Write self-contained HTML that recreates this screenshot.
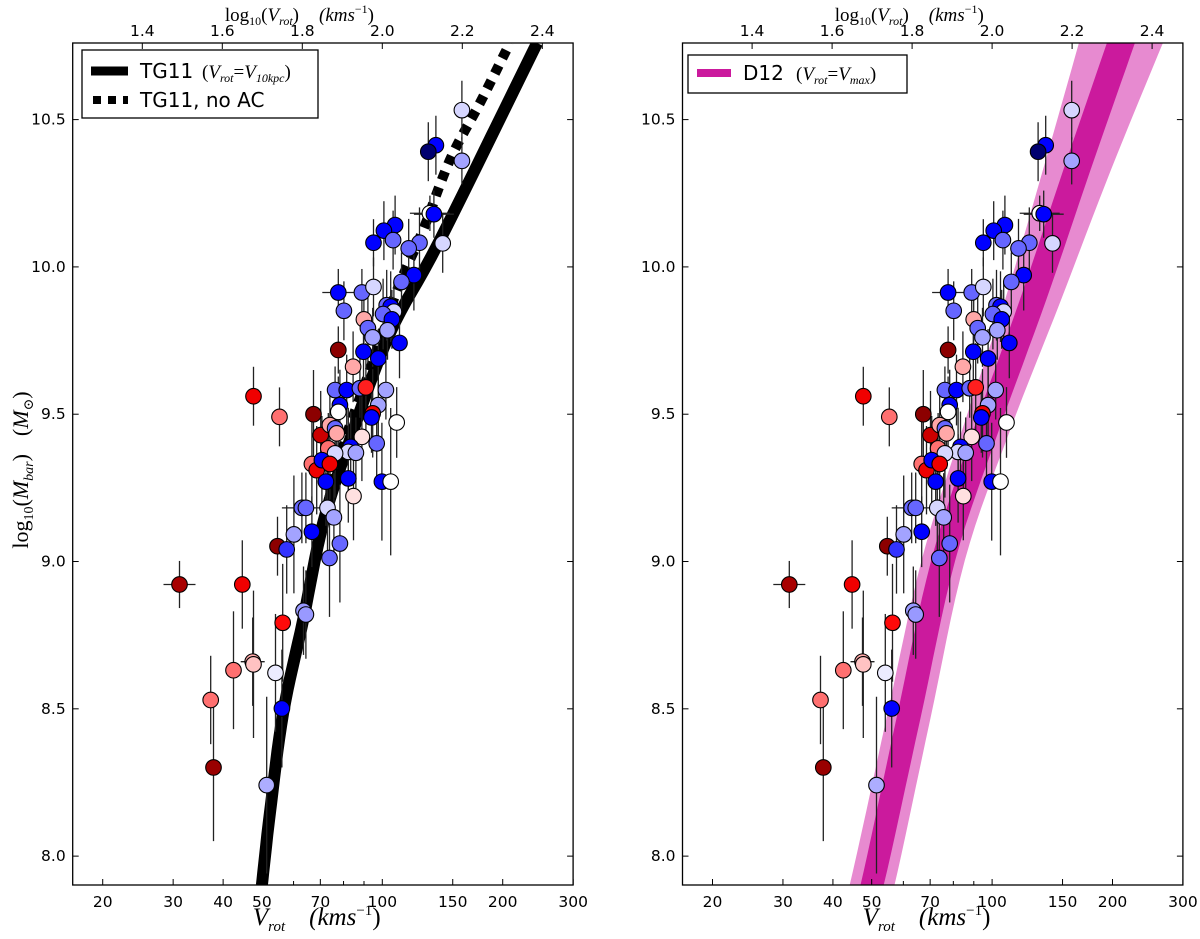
<!DOCTYPE html>
<html><head><meta charset="utf-8"><style>
html,body{margin:0;padding:0;background:#fff;}
svg{display:block;}
</style></head><body>
<svg id="fig" width="1200" height="939" xmlns="http://www.w3.org/2000/svg"></svg>
<script>
// ---- data ----
const logVrot = [2.199,2.134,2.115,2.199,2.119,2.129,2.151,2.032,2.004,2.027,1.978,2.093,2.066,2.079,2.048,1.890,1.949,1.978,1.904,1.954,1.964,1.976,2.011,2.021,2.029,2.002,2.024,2.013,2.043,1.890,1.953,1.990,1.927,1.678,1.743,1.828,1.882,1.911,1.944,1.959,2.009,1.894,1.890,1.990,1.976,1.973,2.036,1.846,1.869,1.882,1.886,1.949,1.986,1.865,1.921,1.915,1.934,1.882,1.824,1.836,1.849,1.869,1.859,1.915,1.999,2.021,1.928,1.799,1.809,1.863,1.879,1.779,1.824,1.738,1.761,1.894,1.868,1.493,1.650,1.803,1.809,1.751,1.628,1.676,1.678,1.733,1.571,1.749,1.578,1.711];
const logMbar = [10.532,10.413,10.391,10.360,10.182,10.179,10.080,10.142,10.123,10.091,10.082,10.082,10.063,9.972,9.949,9.913,9.913,9.932,9.851,9.822,9.792,9.761,9.870,9.865,9.848,9.840,9.822,9.785,9.742,9.718,9.712,9.689,9.661,9.561,9.491,9.500,9.582,9.582,9.588,9.591,9.582,9.531,9.508,9.531,9.503,9.489,9.472,9.429,9.463,9.452,9.435,9.423,9.401,9.384,9.389,9.372,9.369,9.367,9.331,9.310,9.344,9.331,9.271,9.282,9.271,9.271,9.222,9.182,9.182,9.182,9.150,9.092,9.101,9.052,9.041,9.061,9.012,8.922,8.922,8.833,8.820,8.792,8.631,8.660,8.651,8.622,8.530,8.501,8.301,8.241];
const colorVal = [0.46,0.25,0.05,0.41,0.5,0.25,0.46,0.25,0.25,0.35,0.25,0.35,0.35,0.25,0.35,0.25,0.35,0.46,0.35,0.585,0.35,0.41,0.35,0.25,0.46,0.35,0.25,0.41,0.25,0.975,0.25,0.25,0.585,0.78,0.64,0.975,0.35,0.25,0.35,0.72,0.41,0.25,0.5,0.41,0.78,0.25,0.5,0.85,0.585,0.35,0.585,0.53,0.35,0.64,0.25,0.46,0.41,0.46,0.64,0.78,0.25,0.78,0.25,0.25,0.25,0.5,0.53,0.35,0.35,0.46,0.41,0.41,0.25,0.975,0.30,0.35,0.35,0.92,0.78,0.40,0.40,0.74,0.64,0.585,0.56,0.48,0.64,0.25,0.95,0.42];
const yErr = [.1,.1,.1,.08,.06,.08,.1,.1,.1,.1,.08,.12,.1,.12,.1,.08,.08,.1,.1,.08,.12,.1,.12,.12,.1,.12,.1,.1,.12,.08,.1,.1,.12,.1,.1,.15,.08,.12,.1,.15,.1,.12,.12,.15,.15,.12,.12,.15,.12,.15,.12,.15,.12,.12,.12,.15,.12,.15,.15,.15,.15,.12,.15,.15,.2,.25,.15,.12,.12,.15,.15,.2,.12,.1,.15,.2,.2,.08,.15,.15,.15,.2,.2,.15,.25,.2,.15,.2,.25,.3];
const xErr = [0,0,0,0,.05,.05,.01,0,0,0,0,0,0,0,0,.04,0,0,0,0,0,0,0,0,0,0,0,0,0,0,0,0,0,.01,0,0,0,0,0,0,0,0,0,0,0,0,0,0,0,0,0,0,0,0,0,0,0,0,.01,0,0,0,0,0,0,0,0,.05,0,0,0,0,0,0,0,0,0,.04,0,0,0,.02,0,.03,0,0,.015,.01,.01,0];
// TG11 curves
const tgSolidLogV = [1.699,1.719,1.752,1.802,1.852,1.919,2.019,2.144,2.387];
const tgSolidLogM = [7.902,8.146,8.485,8.801,9.130,9.412,9.775,10.091,10.760];
const tgNoACLogV = [1.699,1.752,1.802,1.852,1.907,1.969,2.037,2.102,2.169,2.244,2.319];
const tgNoACLogM = [7.902,8.485,8.801,9.130,9.412,9.650,9.921,10.125,10.363,10.556,10.760];
// D12 band
const d12LogM = [7.80,7.902,8.462,9.005,9.446,9.887,10.329,10.760,10.85];
const d12LogV = [1.672,1.700,1.790,1.878,1.985,2.102,2.212,2.322,2.345];
const d12Inner = [0.029,0.029,0.030,0.030,0.032,0.033,0.034,0.035,0.035];
const d12Outer = [0.056,0.056,0.055,0.054,0.060,0.070,0.085,0.105,0.11];
// ticks
const bottomTicks = [20,30,40,50,70,100,150,200,300];
const bottomMinor = [60,80,90];
const topTicks = [1.4,1.6,1.8,2.0,2.2,2.4];
const yTicks = [8.0,8.5,9.0,9.5,10.0,10.5];

const XMIN=1.226, XMAX=2.477, YMIN=7.902, YMAX=10.760;
const PT=43, PB=885;
const NS='http://www.w3.org/2000/svg';
const svg=document.getElementById('fig');
function el(tag,attrs,parent){const e=document.createElementNS(NS,tag);for(const k in attrs)e.setAttribute(k,attrs[k]);(parent||svg).appendChild(e);return e;}
function seismic(c){let r,g,b;if(c<0.25){r=0;g=0;b=0.3+0.7*c/0.25;}else if(c<0.5){const t=(c-0.25)/0.25;r=t;g=t;b=1;}else if(c<0.75){const t=(c-0.5)/0.25;r=1;g=1-t;b=1-t;}else{const t=(c-0.75)/0.25;r=1-0.5*t;g=0;b=0;}return `rgb(${Math.round(r*255)},${Math.round(g*255)},${Math.round(b*255)})`;}
function crSample(arrs,steps){
  const n=arrs[0].length, out=arrs.map(()=>[]);
  for(let i=0;i<n-1;i++){
    for(let s=0;s<steps;s++){
      const t=s/steps;
      arrs.forEach((a,k)=>{
        const p0=a[Math.max(0,i-1)],p1=a[i],p2=a[i+1],p3=a[Math.min(n-1,i+2)];
        const t2=t*t,t3=t2*t;
        out[k].push(0.5*((2*p1)+(-p0+p2)*t+(2*p0-5*p1+4*p2-p3)*t2+(-p0+3*p1-3*p2+p3)*t3));
      });
    }
  }
  arrs.forEach((a,k)=>out[k].push(a[n-1]));
  return out;
}

function panel(L,R,name,isLeft){
  const xs=v=>L+(v-XMIN)/(XMAX-XMIN)*(R-L);
  const ys=v=>PB-(v-YMIN)/(YMAX-YMIN)*(PB-PT);
  const g=el('g',{});
  
  
  const cid='clip-'+name;
  const defs=el('defs',{},g);
  const cp=el('clipPath',{id:cid},defs);
  el('rect',{x:L,y:PT,width:R-L,height:PB-PT},cp);
  const plot=el('g',{'clip-path':`url(#${cid})`},g);
  const pathOf=(X,Y)=>{const [sx,sy]=crSample([X,Y],8);let d='';sx.forEach((v,i)=>{d+=(i?'L':'M')+xs(v).toFixed(1)+' '+ys(sy[i]).toFixed(1);});return d;};
  if(isLeft){
    const s=el('path',{d:pathOf(tgSolidLogV,tgSolidLogM),fill:'none',stroke:'#000','stroke-width':12},plot);
    
    
    const s2=el('path',{d:pathOf(tgNoACLogV,tgNoACLogM),fill:'none',stroke:'#000','stroke-width':10,'stroke-dasharray':'9 8'},plot);
    
    
  } else {
    const [cV,cM,wI,wO]=crSample([d12LogV,d12LogM,d12Inner,d12Outer],8);
    const band=(w,fill,nm)=>{let pts=[];cV.forEach((v,i)=>pts.push(xs(v-w[i]).toFixed(1)+','+ys(cM[i]).toFixed(1)));
      for(let i=cV.length-1;i>=0;i--)pts.push(xs(cV[i]+w[i]).toFixed(1)+','+ys(cM[i]).toFixed(1));
      const p=el('polygon',{points:pts.join(' '),fill:fill},plot);
      
      };
    band(wO,'#e78ad0','d12-outer-band');
    band(wI,'#cb1a9d','d12-inner-band');
  }
  logVrot.forEach((v,i)=>{
    const x=xs(v),y=ys(logMbar[i]);
    const e=el('line',{x1:x,x2:x,y1:ys(logMbar[i]+yErr[i]),y2:ys(logMbar[i]-yErr[i]),stroke:'#222','stroke-width':1.3},plot);
    
    
    if(xErr[i]>0){const e2=el('line',{x1:xs(v-xErr[i]),x2:xs(v+xErr[i]),y1:y,y2:y,stroke:'#222','stroke-width':1.3},plot);
      
      }
  });
  logVrot.forEach((v,i)=>{
    const c=el('circle',{cx:xs(v),cy:ys(logMbar[i]),r:7.8,fill:seismic(colorVal[i]),stroke:'#000','stroke-width':1.1},plot);
    
    
  });
  const fr=el('rect',{x:L,y:PT,width:R-L,height:PB-PT,fill:'none',stroke:'#000','stroke-width':1.3},g);
  
  
  const tf='font-family:"DejaVu Sans","Liberation Sans",sans-serif;font-size:15.5px;fill:#000';
  bottomTicks.forEach(t=>{const x=xs(Math.log10(t));
    el('line',{x1:x,x2:x,y1:PB,y2:PB-6,stroke:'#000'},g);
    const tx=el('text',{x:x,y:PB+22,'text-anchor':'middle',style:tf},g);tx.textContent=t;
    
    });
  bottomMinor.forEach(t=>{const x=xs(Math.log10(t));el('line',{x1:x,x2:x,y1:PB,y2:PB-4,stroke:'#000'},g);});
  topTicks.forEach(t=>{const x=xs(t);
    el('line',{x1:x,x2:x,y1:PT,y2:PT+6,stroke:'#000'},g);
    const tx=el('text',{x:x,y:PT-7,'text-anchor':'middle',style:tf},g);tx.textContent=t.toFixed(1);
    
    });
  yTicks.forEach(t=>{const y=ys(t);
    el('line',{x1:L,x2:L+6,y1:y,y2:y,stroke:'#000'},g);
    el('line',{x1:R,x2:R-6,y1:y,y2:y,stroke:'#000'},g);
    const tx=el('text',{x:L-7,y:y+5,'text-anchor':'end',style:tf},g);tx.textContent=t.toFixed(1);
    
    });
  return {xs,ys,L,R};
}
const P1=panel(72.7,573.1,'left-panel',true);
const P2=panel(682.5,1182.9,'right-panel',false);

const serif='font-family:"Liberation Serif","DejaVu Serif",serif;';
function addHTML(str){const t=document.createElementNS(NS,'g');t.innerHTML=str;svg.appendChild(t);}
[P1,P2].forEach((P,k)=>{
  const cx=(P.L+P.R)/2;
  addHTML(`<text x="${cx-70}" y="925" style='${serif}font-size:25px;font-style:italic'>V<tspan font-size="15" dy="6">rot</tspan><tspan dy="-6" dx="24">(kms</tspan><tspan font-size="15" dy="-10" font-style="normal">−1</tspan><tspan dy="10" font-style="normal">)</tspan></text>`);
  addHTML(`<text x="${cx-98}" y="21" style='${serif}font-size:19px'>log<tspan font-size="12" dy="4">10</tspan><tspan dy="-4">(</tspan><tspan font-style="italic">V</tspan><tspan font-size="12" dy="4" font-style="italic">rot</tspan><tspan dy="-4">)</tspan><tspan dx="20" font-style="italic">(kms</tspan><tspan font-size="12" dy="-8">−1</tspan><tspan dy="8">)</tspan></text>`);
});
addHTML(`<text transform="translate(28,470) rotate(-90)" text-anchor="middle" style='${serif}font-size:22px'>log<tspan font-size="14" dy="5">10</tspan><tspan dy="-5">(</tspan><tspan font-style="italic">M</tspan><tspan font-size="14" dy="5" font-style="italic">bar</tspan><tspan dy="-5">)</tspan><tspan dx="18">(</tspan><tspan font-style="italic">M</tspan><tspan font-size="14" dy="5">⊙</tspan><tspan dy="-5">)</tspan></text>`);
const sans='font-family:"DejaVu Sans","Liberation Sans",sans-serif;font-size:20px;';
addHTML(`<g>
<rect x="82" y="50" width="236" height="68" fill="#fff" stroke="#000" stroke-width="1.3"/>
<line x1="91" x2="128" y1="71" y2="71" stroke="#000" stroke-width="9"/>
<text x="140" y="78" style='${sans}'>TG11</text>
<text x="202" y="78" style='${serif}font-size:19px'>(<tspan font-style="italic">V</tspan><tspan font-size="12" dy="4" font-style="italic">rot</tspan><tspan dy="-4">=</tspan><tspan font-style="italic">V</tspan><tspan font-size="12" dy="4" font-style="italic">10kpc</tspan><tspan dy="-4">)</tspan></text>
<line x1="93" x2="128" y1="100" y2="100" stroke="#000" stroke-width="8" stroke-dasharray="8 7"/>
<text x="140" y="107" style='${sans}'>TG11, no AC</text>
</g>`);
addHTML(`<g>
<rect x="688" y="55" width="219" height="38" fill="#fff" stroke="#000" stroke-width="1.3"/>
<line x1="697" x2="731" y1="73" y2="73" stroke="#cb1a9d" stroke-width="8"/>
<text x="743" y="80" style='${sans}'>D12</text>
<text x="796" y="80" style='${serif}font-size:19px'>(<tspan font-style="italic">V</tspan><tspan font-size="12" dy="4" font-style="italic">rot</tspan><tspan dy="-4">=</tspan><tspan font-style="italic">V</tspan><tspan font-size="12" dy="4" font-style="italic">max</tspan><tspan dy="-4">)</tspan></text>
</g>`);
</script>
</body></html>
